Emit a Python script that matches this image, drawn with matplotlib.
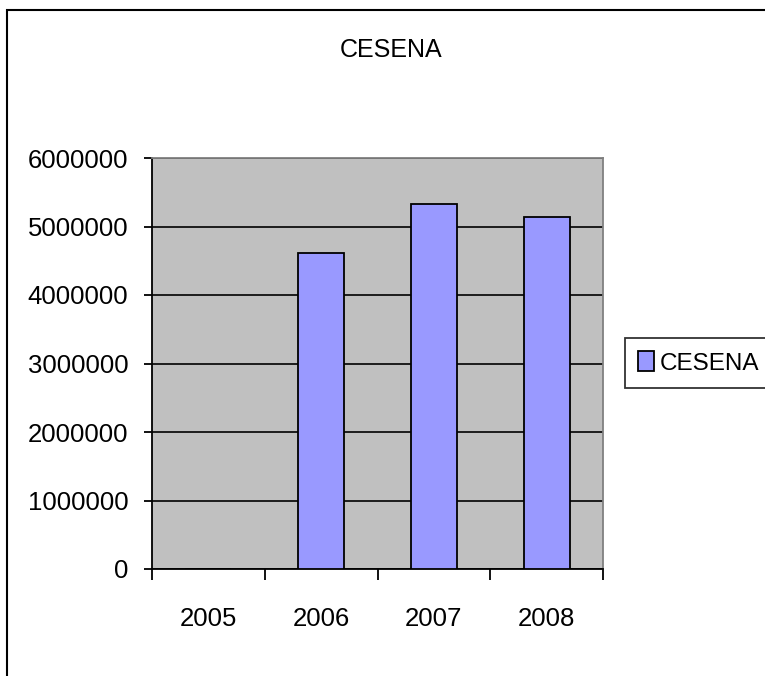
import numpy as np
import matplotlib
matplotlib.use('Agg')
import matplotlib.pyplot as plt
from matplotlib.patches import Rectangle

plt.rcParams['font.family'] = ['Liberation Sans', 'DejaVu Sans']

# dati
anni = ['2005', '2006', '2007', '2008']
valori = [0, 4620000, 5325000, 5145000]
yticks = [0, 1000000, 2000000, 3000000, 4000000, 5000000, 6000000]

fig = plt.figure(figsize=(7.65, 6.76), dpi=100)
ax = fig.add_axes([152/765, 1 - 569/676, 451/765, 411/676])
ax.set_facecolor('#C0C0C0')

x = np.arange(len(anni))
ax.bar(x, valori, width=0.41, color='#9999FF', edgecolor='black', linewidth=1.3,
       label='CESENA', zorder=3)

ax.set_xlim(-0.5, len(anni) - 0.5)
ax.set_ylim(0, 6000000)
ax.set_yticks(yticks)
ax.set_yticklabels([str(v) for v in yticks])
ax.yaxis.grid(True, color='black', linewidth=1.2, zorder=1)
ax.set_axisbelow(True)

# tick maggiori ai confini delle categorie, etichette al centro
ax.set_xticks(np.arange(-0.5, len(anni), 1.0))
ax.set_xticklabels([])
ax.set_xticks(x, minor=True)
ax.set_xticklabels(anni, minor=True)
ax.tick_params(axis='x', which='major', direction='out', length=8, width=1.3, color='black')
ax.tick_params(axis='x', which='minor', length=0, pad=27, labelsize=18.5)
ax.tick_params(axis='y', direction='out', length=6, width=1.3, pad=11, labelsize=18.5)

for s in ['top', 'right']:
    ax.spines[s].set_color('#808080')
    ax.spines[s].set_linewidth(1.3)
for s in ['left', 'bottom']:
    ax.spines[s].set_color('black')
    ax.spines[s].set_linewidth(1.3)

fig.text(391.5/765, 1 - 50/676, 'CESENA', ha='center', va='center', fontsize=18)

leg = fig.legend(loc='center left', bbox_to_anchor=(625/765, 1 - 363/676),
                 fontsize=17.5, frameon=True, fancybox=False, edgecolor='black',
                 handlelength=0.65, handleheight=0.85, handletextpad=0.25,
                 borderpad=0.55, borderaxespad=0)
leg.get_frame().set_linewidth(1.3)

# cornice esterna
fig.patches.append(Rectangle((7/765, -0.05), 1.2, 1 - 10/676 + 0.05,
                             transform=fig.transFigure, fill=False,
                             edgecolor='black', linewidth=1.5))

fig.savefig('out.png', dpi=100)
